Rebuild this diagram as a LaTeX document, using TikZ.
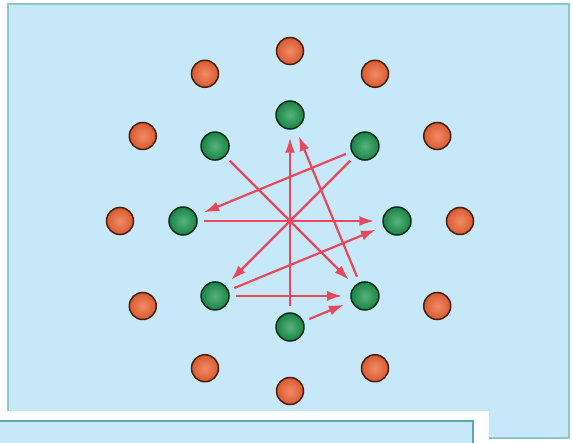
\documentclass[tikz,border=0pt]{standalone}
\usepackage{tikz}
\usetikzlibrary{arrows.meta}
\definecolor{panelblue}{HTML}{C6E8F8}
\definecolor{panelline}{HTML}{8CC6CF}
\definecolor{tabline}{HTML}{5FA8B2}
\definecolor{arrowred}{HTML}{E5334A}
\definecolor{dotorange}{HTML}{EE6435}
\definecolor{dotgreen}{HTML}{1F9A52}

\begin{document}
\begin{tikzpicture}[
    x=1pt, y=1pt,
    panel/.style={draw=panelline, fill=panelblue, line width=1.2pt},
    odot/.style={circle, minimum size=27pt, inner sep=0pt,
      shading=radial, inner color=dotorange!75!white, outer color=dotorange!90!black,
      draw=dotorange!30!black, line width=1.5pt},
    gdot/.style={circle, minimum size=28pt, inner sep=0pt,
      shading=radial, inner color=dotgreen!75!white, outer color=dotgreen!85!black,
      draw=dotgreen!30!black, line width=1.5pt},
    arr/.style={-{Latex[length=15pt, width=10pt]}, line width=2.2pt,
      color=arrowred!90, shorten <=6pt, shorten >=8pt},
  ]
    \useasboundingbox (0,0) rectangle (572,442);

    % panels
    \draw[panel] (8,4) rectangle (569,438);
    \fill[white] (-5,-5) rectangle (489,31);
    \draw[draw=tabline, fill=panelblue, line width=2pt] (-5,-5) rectangle (473,21);

    % centre
    \node[circle, fill=arrowred, minimum size=6pt, inner sep=0pt] (ctr) at (290,221) {};

    % outer ring
    \node[odot] (o0)  at ([shift={(90:170)}]ctr)  {};
    \node[odot] (o1)  at ([shift={(60:170)}]ctr)  {};
    \node[odot] (o2)  at ([shift={(30:170)}]ctr)  {};
    \node[odot] (o3)  at ([shift={(0:170)}]ctr)   {};
    \node[odot] (o4)  at ([shift={(-30:170)}]ctr) {};
    \node[odot] (o5)  at ([shift={(-60:170)}]ctr) {};
    \node[odot] (o6)  at ([shift={(-90:170)}]ctr) {};
    \node[odot] (o7)  at ([shift={(-120:170)}]ctr) {};
    \node[odot] (o8)  at ([shift={(-150:170)}]ctr) {};
    \node[odot] (o9)  at ([shift={(180:170)}]ctr) {};
    \node[odot] (o10) at ([shift={(150:170)}]ctr) {};
    \node[odot] (o11) at ([shift={(120:170)}]ctr) {};

    % inner ring
    \node[gdot] (gT)  at ([shift={(90:106)}]ctr)  {};
    \node[gdot] (gTR) at ([shift={(45:106)}]ctr)  {};
    \node[gdot] (gR)  at ([shift={(0:107)}]ctr)   {};
    \node[gdot] (gBR) at ([shift={(-45:106)}]ctr) {};
    \node[gdot] (gB)  at ([shift={(-90:106)}]ctr) {};
    \node[gdot] (gBL) at ([shift={(-135:106)}]ctr) {};
    \node[gdot] (gL)  at ([shift={(180:107)}]ctr) {};
    \node[gdot] (gTL) at ([shift={(135:106)}]ctr) {};

    \draw[arr] (gTL) -- (gBR);
    \draw[arr] (gTR) -- (gL);
    \draw[arr] (gTR) -- (gBL);
    \draw[arr] (gL)  -- (gR);
    \draw[arr] (gB)  -- (gT);
    \draw[arr] (gBR) -- (gT);
    \draw[arr] (gBL) -- (gR);
    \draw[arr] (gBL) -- (gBR);
    \draw[arr] (gB)  -- (gBR);
\end{tikzpicture}
\end{document}
